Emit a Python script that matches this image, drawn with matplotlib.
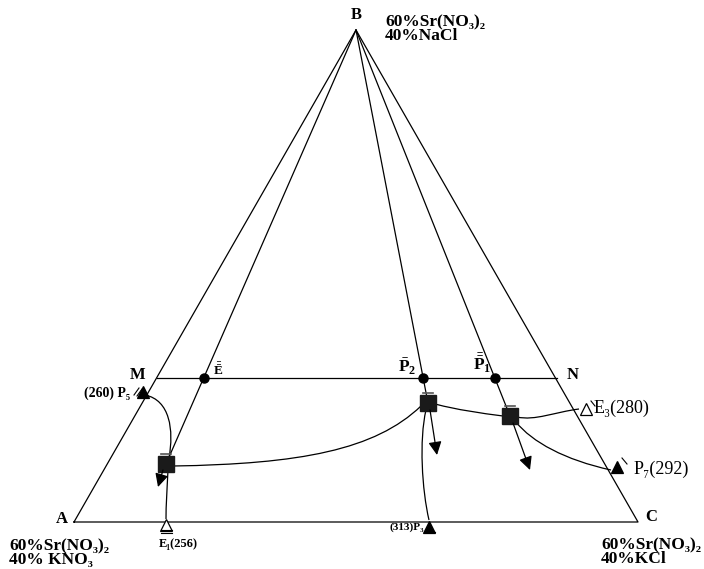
import matplotlib
matplotlib.use("Agg")
import matplotlib.pyplot as plt
from matplotlib.path import Path
from matplotlib.patches import PathPatch

plt.rcParams['font.family'] = ['Liberation Serif', 'DejaVu Serif']
plt.rcParams['mathtext.fontset'] = 'custom'
plt.rcParams['mathtext.rm'] = 'Liberation Serif:bold'
plt.rcParams['mathtext.it'] = 'Liberation Serif:bold'
plt.rcParams['mathtext.bf'] = 'Liberation Serif:bold'

# ---- data (image coordinates, y downward) ----
vertex_names = ["A", "B", "C"]
vertex_x = [74, 356, 638]
vertex_y = [522, 30, 522]

mn_x = [157, 557]
mn_y = [378, 378]

# points on MN (projections)
mn_pt_names = ["Ebar", "P2bar", "P1bar"]
mn_pt_x = [204, 423, 495]
mn_pt_y = [378, 378, 378]

# invariant points (squares) inside
sq_names = ["E", "P2", "P1"]
sq_x = [166, 428, 510]
sq_y = [464, 403, 416]

# binary points on the edges
bin_names = ["P5", "E1", "P3", "E3", "P7"]
bin_x = [143, 166, 429, 586, 617]
bin_y = [392, 525, 527, 409, 467]
bin_filled = [True, False, True, False, True]

# univariant curves (cubic bezier control points)
curve_P5_E = [(145, 395), (170, 400), (174, 430), (169, 458)]
curve_E_E1 = [(168, 470), (167, 490), (166, 505), (166, 519)]
curve_E_P2 = [(173, 466), (300, 464), (375, 450), (421, 406)]
curve_P2_P1 = [(435, 404), (458, 410), (480, 413), (503, 416)]
curve_P1_E3 = [(517, 417), (535, 421), (555, 412), (579, 409)]
curve_P1_P7 = [(516, 422), (532, 442), (565, 460), (611, 470)]
curve_P2_P3 = [(426, 410), (419, 440), (422, 490), (429, 520)]

# arrows (start, tip)
arrow_E = [(163, 470), (158, 487)]
arrow_P2 = [(430, 410), (437, 455)]
arrow_P1 = [(513, 423), (530, 470)]

# ---- figure ----
fig = plt.figure(figsize=(7.04, 5.69), dpi=100)
ax = fig.add_axes([0, 0, 1, 1])
ax.set_xlim(0, 704)
ax.set_ylim(569, 0)
ax.axis('off')

lw = 0.9
k = 'black'

# triangle
ax.plot(vertex_x + [vertex_x[0]], vertex_y + [vertex_y[0]], color=k, lw=lw)
# MN
ax.plot(mn_x, mn_y, color=k, lw=lw)
# lines from B through MN points to squares
for i in range(3):
    ax.plot([vertex_x[1], sq_x[i]], [vertex_y[1], sq_y[i]], color=k, lw=lw)
# dots on MN
ax.plot(mn_pt_x, mn_pt_y, 'o', color=k, ms=6.5)

# curves
def bez(pts):
    codes = [Path.MOVETO, Path.CURVE4, Path.CURVE4, Path.CURVE4]
    ax.add_patch(PathPatch(Path(pts, codes), fc='none', ec=k, lw=lw))

for c in [curve_P5_E, curve_E_E1, curve_E_P2, curve_P2_P1, curve_P1_E3,
          curve_P1_P7, curve_P2_P3]:
    bez(c)

# arrows
for s, t in [arrow_E, arrow_P2, arrow_P1]:
    ax.annotate('', xy=t, xytext=s,
                arrowprops=dict(arrowstyle='-|>,head_length=0.8,head_width=0.4',
                                color=k, lw=lw, shrinkA=0, shrinkB=0))

# squares
ax.plot(sq_x, sq_y, 's', color='#1a1a1a', ms=11)
for x, y in zip(sq_x, sq_y):
    ax.plot([x - 5, x + 5], [y - 10, y - 10], color='#555555', lw=1.2)

# binary points
for x, y, f in zip(bin_x, bin_y, bin_filled):
    ax.plot([x], [y], '^', ms=8, mfc=k if f else 'white', mec=k, mew=0.9)
# decorations near binary triangles
ax.plot([134, 139], [395, 388], color=k, lw=0.8)
ax.plot([137, 142], [396, 389], color=k, lw=0.8)
ax.plot([622, 627], [458, 464], color=k, lw=0.8)
ax.plot([591, 595], [401, 406], color=k, lw=0.8)
ax.plot([161, 172], [530, 530], color=k, lw=0.8)
ax.plot([161, 172], [532.5, 532.5], color=k, lw=0.8)
ax.plot([424, 435], [532, 532], color=k, lw=0.8)

# ---- labels ----
bold = dict(fontweight='bold', color=k)
ax.text(356, 15, "B", fontsize=12, ha='center', va='center', **bold)
ax.text(62, 519, "A", fontsize=12, ha='center', va='center', **bold)
ax.text(651, 517, "C", fontsize=12, ha='center', va='center', **bold)
ax.text(138, 375, "M", fontsize=12, ha='center', va='center', **bold)
ax.text(573, 375, "N", fontsize=12, ha='center', va='center', **bold)

cfs = 12.5
ls = 0.82
ax.text(385, 14, "60%Sr(NO₃)₂\n40%NaCl", fontsize=cfs, ha='left',
        va='top', linespacing=ls, **bold)
ax.text(9, 538, "60%Sr(NO₃)₂\n40% KNO₃", fontsize=cfs, ha='left',
        va='top', linespacing=ls, **bold)
ax.text(601, 537, "60%Sr(NO₃)₂\n40%KCl", fontsize=cfs, ha='left',
        va='top', linespacing=ls, **bold)

ax.text(218, 370, r"$\bar{\bar{\mathrm{E}}}$", fontsize=9.5, ha='center', va='center', **bold)
ax.text(407, 367, r"$\bar{\mathrm{P}}_2$", fontsize=12.5, ha='center', va='center', **bold)
ax.text(482, 363, r"$\bar{\bar{\mathrm{P}}}_1$", fontsize=12.5, ha='center', va='center', **bold)

ax.text(130, 393, "(260) P₅", fontsize=10, ha='right', va='center', **bold)
ax.text(159, 544, "E₁(256)", fontsize=9, ha='left', va='center', **bold)
ax.text(424, 527, "(313)P₃", fontsize=8, ha='right', va='center', **bold)
ax.text(594, 408, "E₃(280)", fontsize=13, ha='left', va='center', color=k)
ax.text(634, 469, "P₇(292)", fontsize=13, ha='left', va='center', color=k)

fig.savefig("out.png", dpi=100)
